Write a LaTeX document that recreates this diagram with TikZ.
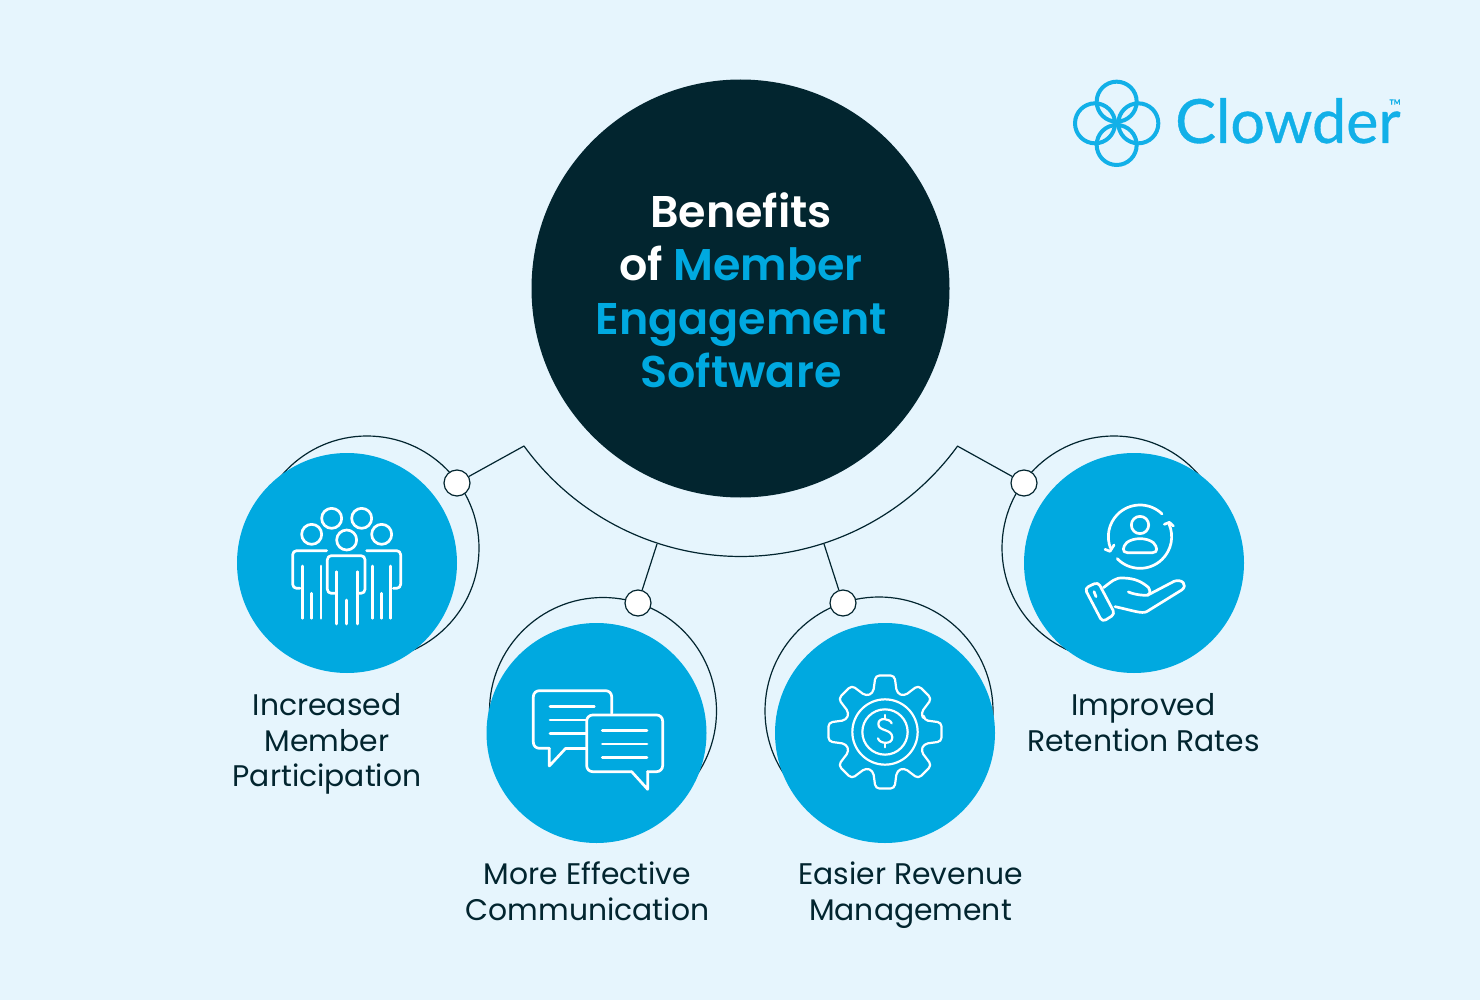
\documentclass[tikz,border=0pt]{standalone}
\usepackage{fontspec}
\setmainfont{Poppins}[BoldFont=* SemiBold]
\newfontfamily\logofont{Lato}[FakeBold=0.6]
\usetikzlibrary{arrows}
\definecolor{pagebg}{HTML}{E6F5FD}
\definecolor{darkteal}{HTML}{02252F}
\definecolor{clowderblue}{HTML}{00A9E0}
\definecolor{logoblue}{HTML}{12B0E8}

\begin{document}
\begin{tikzpicture}[x=1pt,y=-1pt,
 ring/.style={draw=darkteal, line width=1.2pt},
 dot/.style={circle, draw=darkteal, fill=white, line width=1.2pt, minimum size=26pt, inner sep=0},
 badge/.style={circle, fill=clowderblue, minimum size=220pt, inner sep=0},
 label/.style={text=darkteal, align=center, font=\fontsize{29.8}{35.5}\selectfont},
 icon/.style={draw=white, line width=2.7pt, line cap=round, line join=round},
 thinicon/.style={draw=white, line width=2.2pt, line cap=round, line join=round}]
\fill[pagebg] (0,0) rectangle (1480,1000);
\useasboundingbox (0,0) rectangle (1480,1000);

\node[circle, fill=darkteal, minimum size=418pt, inner sep=0] (hub) at (740.5,288.5) {};
\node[align=center, text=white, font=\fontsize{44.4}{53.5}\selectfont\bfseries] (title) at (741,290.5)
 {Benefits\\of \textcolor{clowderblue}{Member}\\\textcolor{clowderblue}{Engagement}\\\textcolor{clowderblue}{Software}};

\foreach \name/\cx/\cy/\r/\bx/\by in {one/367/548/112/347/563, two/603/711/113.5/596.5/733, three/879/711/114/885/733, four/1114/548/112/1134/563} {
 \draw[ring] (\cx,\cy) circle[radius=\r];
 \node[badge] (\name) at (\bx,\by) {};
}

\coordinate (arcL) at (524,446);
\coordinate (arcR) at (957.3,446);
\coordinate (arcA) at (657,544);
\coordinate (arcB) at (824,544);
\draw[ring] (arcL) arc[start angle=144, end angle=36, radius=268];

\node[dot] (dotone) at (457,483) {};
\node[dot] (dottwo) at (638,603) {};
\node[dot] (dotthree) at (843,603) {};
\node[dot] (dotfour) at (1024,483) {};
\draw[ring] (arcL)--(dotone);
\draw[ring] (arcA)--(dottwo);
\draw[ring] (arcB)--(dotthree);
\draw[ring] (arcR)--(dotfour);

\node[label, anchor=north] (labelone) at (327,690) {Increased\\Member\\Participation};
\node[label, anchor=north] (labeltwo) at (587.5,858.5) {More Effective\\Communication};
\node[label, anchor=north] (labelthree) at (910.5,858.5) {Easier Revenue\\Management};
\node[label, anchor=north] (labelfour) at (1143.5,690) {Improved\\Retention Rates};

% people
\begin{scope}[shift={(270,490)},scale=1/3]
\foreach \x/\y in {185/85,275/85,125/133,335/133,230/150}
 \draw[icon] (\x,\y) circle[radius=30];
\draw[icon, rounded corners=4pt] (195,310)--(172,310)--(172,197)--(285,197)--(285,310)--(265,310);
\draw[icon, rounded corners=4pt] (170,182)--(68,182)--(68,295)--(90,295);
\draw[icon, rounded corners=4pt] (290,182)--(392,182)--(392,295)--(370,295);
\foreach \x/\y in {200/245,230/330,262/245}
 \draw[icon] (\x,\y)--(\x,402);
\foreach \x/\y in {98/228,125/310,153/228,307/228,335/310,362/228}
 \draw[icon] (\x,\y)--(\x,385);
\end{scope}

% chat bubbles
\begin{scope}[shift={(515,670)},scale=1/3]
\draw[icon, rounded corners=6pt] (212,235)--(152,235);
\draw[icon] (152,235)--(103,288)--(103,235);
\draw[icon, rounded corners=6pt] (103,235)--(55,235)--(55,62)--(290,62)--(290,130);
\draw[icon, rounded corners=6pt] (350,305)--(215,305)--(215,135)--(443,135)--(443,305)--(398,305);
\draw[icon] (398,305)--(398,358)--(350,305);
\foreach \y/\a/\b in {110/105/238,150/105/212,190/105/212,182/262/396,222/262/396,262/262/396}
 \draw[icon] (\a,\y)--(\b,\y);
\end{scope}

% gear
\begin{scope}[shift={(810,660)},scale=1/3]
\coordinate (gear) at (225,216);
\draw[thinicon, rounded corners=4pt, shift={(gear)}] (-17:122)
 \foreach \a in {0,45,...,315} {
  --(\a-17:122)--(\a-9.5:172)--(\a+9.5:172)--(\a+17:122)
 } --cycle;
\draw[thinicon] (gear) circle[radius=98];
\draw[thinicon] (gear) circle[radius=68];
\draw[thinicon] (245,190) .. controls (240,175) and (205,170) .. (205,192)
 .. controls (205,215) and (245,205) .. (247,232)
 .. controls (247,255) and (208,252) .. (204,235);
\draw[thinicon] (225,165)--(225,175);
\draw[thinicon] (225,250)--(225,262);
\end{scope}

% hand and member
\begin{scope}[shift={(1070,490)},scale=1/3]
\coordinate (loop) at (210,140);
\draw[icon, shift={(loop)}] (-46:95) arc[start angle=-46, end angle=-201, radius=95];
\draw[icon, shift={(loop)}] (136:95) arc[start angle=136, end angle=-24, radius=95];
\draw[icon] (105,178)--(120,184)--(132,165);
\draw[icon] (283,103)--(298,97)--(310,108);
\draw[icon] (210,105) circle[radius=26];
\draw[icon] (172,188) .. controls (155,188) and (158,170) .. (170,158)
 .. controls (190,142) and (230,142) .. (250,158)
 .. controls (262,170) and (265,188) .. (248,188)--cycle;
\draw[icon, rounded corners=4pt] (44,295)--(84,276)--(135,372)--(97,396)--cycle;
\draw[icon] (72,305)--(78,320);
\draw[icon] (100,293) .. controls (125,275) and (135,262) .. (160,264)
 .. controls (195,265) and (215,275) .. (235,292)
 .. controls (245,305) and (238,318) .. (225,316)
 .. controls (205,315) and (190,312) .. (175,306);
\draw[icon] (232,316)--(312,274) .. controls (335,265) and (355,285) .. (335,300)
 --(230,365) .. controls (215,372) and (190,362) .. (135,350);
\end{scope}

% logo
\begin{scope}[shift={(1060,70)},scale=1/3]
\foreach \x/\y in {170/95,105/160,235/160,170/225}
 \draw[draw=logoblue, line width=4pt] (\x,\y) circle[radius=60];
\end{scope}
\node[anchor=base west, inner sep=0, text=logoblue, font=\logofont\fontsize{61}{61}\selectfont] (clowder) at (1175,143) {Clowder};
\node[anchor=center, inner sep=0, text=logoblue, font=\logofont\bfseries\fontsize{7}{7}\selectfont] (tm) at (1395,102) {TM};
\end{tikzpicture}
\end{document}
